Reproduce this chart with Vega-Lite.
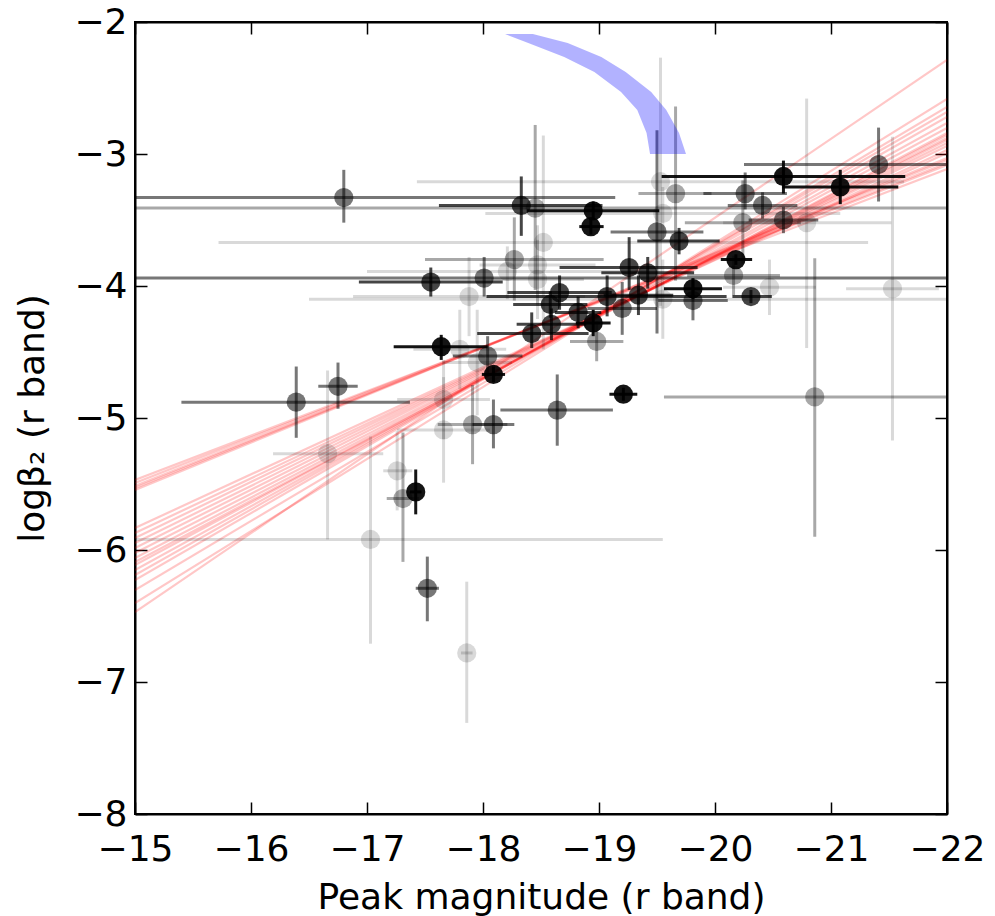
{
  "$schema": "https://vega.github.io/schema/vega-lite/v6.json",
  "width": 812,
  "height": 792,
  "autosize": {"type": "none"},
  "padding": {"left": 135, "top": 22, "right": 48, "bottom": 102},
  "background": "white",
  "datasets": {
    "pts": [
      {"x": -16.80, "y": -3.33, "xlo": -14.46, "xhi": -19.14, "ylo": -3.52, "yhi": -3.12, "w": 3},
      {"x": -18.33, "y": -3.39, "xlo": -17.62, "xhi": -19.03, "ylo": -3.62, "yhi": -3.17, "w": 4},
      {"x": -18.45, "y": -3.41, "xlo": -14.8, "xhi": -22.1, "ylo": -4.03, "yhi": -2.78, "w": 2},
      {"x": -18.95, "y": -3.43, "xlo": -18.38, "xhi": -19.52, "ylo": -3.50, "yhi": -3.36, "w": 5},
      {"x": -18.93, "y": -3.55, "xlo": -18.83, "xhi": -19.04, "ylo": -3.61, "yhi": -3.49, "w": 5},
      {"x": -18.52, "y": -3.67, "xlo": -15.72, "xhi": -21.32, "ylo": -4.48, "yhi": -2.86, "w": 1},
      {"x": -18.27, "y": -3.80, "xlo": -17.50, "xhi": -19.04, "ylo": -4.11, "yhi": -3.48, "w": 2},
      {"x": -18.21, "y": -3.89, "xlo": -17.0, "xhi": -19.42, "ylo": -4.1, "yhi": -3.7, "w": 1},
      {"x": -18.47, "y": -3.84, "xlo": -17.97, "xhi": -18.97, "ylo": -4.14, "yhi": -3.54, "w": 1},
      {"x": -18.47, "y": -3.95, "xlo": -18.07, "xhi": -18.87, "ylo": -4.25, "yhi": -3.65, "w": 1},
      {"x": -18.01, "y": -3.94, "xlo": -13.9, "xhi": -22.1, "ylo": -4.08, "yhi": -3.78, "w": 3},
      {"x": -17.88, "y": -4.08, "xlo": -16.88, "xhi": -18.88, "ylo": -4.38, "yhi": -3.78, "w": 1},
      {"x": -17.55, "y": -3.97, "xlo": -16.93, "xhi": -18.17, "ylo": -4.08, "yhi": -3.86, "w": 4},
      {"x": -18.66, "y": -4.05, "xlo": -18.21, "xhi": -19.11, "ylo": -4.18, "yhi": -3.92, "w": 4},
      {"x": -18.58, "y": -4.14, "xlo": -18.26, "xhi": -18.90, "ylo": -4.24, "yhi": -4.04, "w": 4},
      {"x": -18.82, "y": -4.20, "xlo": -18.62, "xhi": -19.02, "ylo": -4.32, "yhi": -4.08, "w": 4},
      {"x": -18.95, "y": -4.28, "xlo": -18.80, "xhi": -19.10, "ylo": -4.38, "yhi": -4.18, "w": 5},
      {"x": -18.59, "y": -4.29, "xlo": -18.29, "xhi": -18.89, "ylo": -4.41, "yhi": -4.17, "w": 4},
      {"x": -18.42, "y": -4.36, "xlo": -17.95, "xhi": -18.91, "ylo": -4.47, "yhi": -4.20, "w": 4},
      {"x": -19.07, "y": -4.08, "xlo": -18.03, "xhi": -20.10, "ylo": -4.23, "yhi": -3.92, "w": 4},
      {"x": -19.20, "y": -4.17, "xlo": -18.90, "xhi": -19.50, "ylo": -4.37, "yhi": -3.97, "w": 3},
      {"x": -19.26, "y": -3.86, "xlo": -18.66, "xhi": -19.85, "ylo": -4.03, "yhi": -3.63, "w": 4},
      {"x": -19.42, "y": -3.90, "xlo": -19.02, "xhi": -19.82, "ylo": -4.02, "yhi": -3.78, "w": 4},
      {"x": -19.34, "y": -4.07, "xlo": -19.04, "xhi": -19.64, "ylo": -4.22, "yhi": -3.92, "w": 4},
      {"x": -19.50, "y": -3.59, "xlo": -19.10, "xhi": -19.90, "ylo": -4.36, "yhi": -2.82, "w": 3},
      {"x": -19.69, "y": -3.66, "xlo": -19.33, "xhi": -20.04, "ylo": -3.76, "yhi": -3.56, "w": 4},
      {"x": -19.53, "y": -3.21, "xlo": -17.43, "xhi": -21.63, "ylo": -4.15, "yhi": -2.27, "w": 1},
      {"x": -19.66, "y": -3.30, "xlo": -19.34, "xhi": -19.97, "ylo": -3.96, "yhi": -2.64, "w": 2},
      {"x": -19.55, "y": -3.45, "xlo": -18.02, "xhi": -21.08, "ylo": -3.65, "yhi": -3.25, "w": 1},
      {"x": -19.81, "y": -4.02, "xlo": -19.56, "xhi": -20.06, "ylo": -4.10, "yhi": -3.94, "w": 5},
      {"x": -19.81, "y": -4.11, "xlo": -19.51, "xhi": -20.11, "ylo": -4.26, "yhi": -3.96, "w": 3},
      {"x": -19.55, "y": -4.10, "xlo": -16.5, "xhi": -22.6, "ylo": -4.40, "yhi": -3.80, "w": 1},
      {"x": -17.64, "y": -4.46, "xlo": -17.23, "xhi": -18.04, "ylo": -4.56, "yhi": -4.37, "w": 5},
      {"x": -17.80, "y": -4.48, "xlo": -17.40, "xhi": -18.20, "ylo": -4.78, "yhi": -4.18, "w": 1},
      {"x": -18.04, "y": -4.53, "xlo": -17.74, "xhi": -18.34, "ylo": -4.68, "yhi": -4.38, "w": 3},
      {"x": -18.09, "y": -4.67, "xlo": -17.99, "xhi": -18.19, "ylo": -4.73, "yhi": -4.61, "w": 5},
      {"x": -17.95, "y": -4.58, "xlo": -17.65, "xhi": -18.25, "ylo": -4.98, "yhi": -4.18, "w": 1},
      {"x": -17.66, "y": -4.86, "xlo": -17.26, "xhi": -18.06, "ylo": -5.16, "yhi": -4.56, "w": 1},
      {"x": -17.66, "y": -5.09, "xlo": -17.26, "xhi": -18.06, "ylo": -5.49, "yhi": -4.69, "w": 1},
      {"x": -17.91, "y": -5.05, "xlo": -17.61, "xhi": -18.21, "ylo": -5.35, "yhi": -4.75, "w": 2},
      {"x": -18.09, "y": -5.05, "xlo": -17.91, "xhi": -18.27, "ylo": -5.23, "yhi": -4.86, "w": 3},
      {"x": -18.64, "y": -4.94, "xlo": -18.15, "xhi": -19.12, "ylo": -5.21, "yhi": -4.67, "w": 3},
      {"x": -19.21, "y": -4.82, "xlo": -19.09, "xhi": -19.33, "ylo": -4.87, "yhi": -4.77, "w": 5},
      {"x": -18.98, "y": -4.42, "xlo": -18.75, "xhi": -19.21, "ylo": -4.57, "yhi": -4.27, "w": 2},
      {"x": -16.39, "y": -4.88, "xlo": -15.40, "xhi": -17.37, "ylo": -5.15, "yhi": -4.61, "w": 3},
      {"x": -16.75, "y": -4.76, "xlo": -16.58, "xhi": -16.92, "ylo": -4.93, "yhi": -4.58, "w": 3},
      {"x": -16.66, "y": -5.27, "xlo": -16.19, "xhi": -17.14, "ylo": -5.92, "yhi": -4.64, "w": 1},
      {"x": -17.26, "y": -5.40, "xlo": -17.14, "xhi": -17.39, "ylo": -5.70, "yhi": -5.10, "w": 1},
      {"x": -17.42, "y": -5.56, "xlo": -17.37, "xhi": -17.47, "ylo": -5.73, "yhi": -5.39, "w": 5},
      {"x": -17.31, "y": -5.61, "xlo": -17.17, "xhi": -17.45, "ylo": -6.09, "yhi": -5.11, "w": 2},
      {"x": -17.03, "y": -5.92, "xlo": -14.5, "xhi": -19.55, "ylo": -6.71, "yhi": -5.14, "w": 1},
      {"x": -17.52, "y": -6.29, "xlo": -17.42, "xhi": -17.62, "ylo": -6.54, "yhi": -6.05, "w": 3},
      {"x": -17.86, "y": -6.78, "xlo": -17.81, "xhi": -17.91, "ylo": -7.31, "yhi": -6.24, "w": 1},
      {"x": -21.41, "y": -3.08, "xlo": -20.25, "xhi": -22.57, "ylo": -3.36, "yhi": -2.80, "w": 3},
      {"x": -20.59, "y": -3.17, "xlo": -19.54, "xhi": -21.64, "ylo": -3.30, "yhi": -3.05, "w": 5},
      {"x": -21.08, "y": -3.25, "xlo": -20.58, "xhi": -21.58, "ylo": -3.38, "yhi": -3.12, "w": 5},
      {"x": -20.26, "y": -3.30, "xlo": -19.90, "xhi": -20.62, "ylo": -3.42, "yhi": -3.14, "w": 3},
      {"x": -20.41, "y": -3.39, "xlo": -20.11, "xhi": -20.71, "ylo": -3.49, "yhi": -3.29, "w": 3},
      {"x": -20.24, "y": -3.52, "xlo": -19.74, "xhi": -20.74, "ylo": -3.83, "yhi": -3.20, "w": 2},
      {"x": -20.59, "y": -3.50, "xlo": -20.29, "xhi": -20.89, "ylo": -3.60, "yhi": -3.40, "w": 3},
      {"x": -20.79, "y": -3.52, "xlo": -20.07, "xhi": -21.52, "ylo": -4.47, "yhi": -2.58, "w": 1},
      {"x": -20.18, "y": -3.80, "xlo": -20.05, "xhi": -20.32, "ylo": -3.84, "yhi": -3.76, "w": 5},
      {"x": -20.16, "y": -3.92, "xlo": -19.76, "xhi": -20.56, "ylo": -4.07, "yhi": -3.77, "w": 2},
      {"x": -20.47, "y": -4.01, "xlo": -20.07, "xhi": -20.87, "ylo": -4.22, "yhi": -3.80, "w": 1},
      {"x": -20.31, "y": -4.08, "xlo": -20.15, "xhi": -20.49, "ylo": -4.13, "yhi": -4.03, "w": 4},
      {"x": -21.53, "y": -4.02, "xlo": -21.13, "xhi": -21.93, "ylo": -5.17, "yhi": -2.87, "w": 1},
      {"x": -20.86, "y": -4.84, "xlo": -19.56, "xhi": -22.5, "ylo": -5.90, "yhi": -3.79, "w": 2}
    ],
    "fits": [
      {"id": 1, "lx": -15, "ly": -5.470}, {"id": 1, "lx": -22, "ly": -3.114},
      {"id": 2, "lx": -15, "ly": -5.492}, {"id": 2, "lx": -22, "ly": -3.083},
      {"id": 3, "lx": -15, "ly": -5.515}, {"id": 3, "lx": -22, "ly": -3.068},
      {"id": 4, "lx": -15, "ly": -5.530}, {"id": 4, "lx": -22, "ly": -3.045},
      {"id": 5, "lx": -15, "ly": -5.545}, {"id": 5, "lx": -22, "ly": -3.030},
      {"id": 6, "lx": -15, "ly": -5.833}, {"id": 6, "lx": -22, "ly": -2.992},
      {"id": 7, "lx": -15, "ly": -5.871}, {"id": 7, "lx": -22, "ly": -2.970},
      {"id": 8, "lx": -15, "ly": -5.909}, {"id": 8, "lx": -22, "ly": -2.939},
      {"id": 9, "lx": -15, "ly": -5.947}, {"id": 9, "lx": -22, "ly": -2.917},
      {"id": 10, "lx": -15, "ly": -5.985}, {"id": 10, "lx": -22, "ly": -2.894},
      {"id": 11, "lx": -15, "ly": -6.023}, {"id": 11, "lx": -22, "ly": -2.879},
      {"id": 12, "lx": -15, "ly": -6.061}, {"id": 12, "lx": -22, "ly": -2.856},
      {"id": 13, "lx": -15, "ly": -6.091}, {"id": 13, "lx": -22, "ly": -2.841},
      {"id": 14, "lx": -15, "ly": -6.114}, {"id": 14, "lx": -22, "ly": -2.803},
      {"id": 15, "lx": -15, "ly": -6.152}, {"id": 15, "lx": -22, "ly": -2.765},
      {"id": 16, "lx": -15, "ly": -6.189}, {"id": 16, "lx": -22, "ly": -2.720},
      {"id": 17, "lx": -15, "ly": -6.227}, {"id": 17, "lx": -22, "ly": -2.682},
      {"id": 18, "lx": -15, "ly": -6.303}, {"id": 18, "lx": -22, "ly": -2.644},
      {"id": 19, "lx": -15, "ly": -6.402}, {"id": 19, "lx": -22, "ly": -2.583},
      {"id": 20, "lx": -15, "ly": -6.470}, {"id": 20, "lx": -22, "ly": -2.288}
    ],
    "band": [
      {"by": -2.091, "bin": -18.19, "bout": -18.43},
      {"by": -2.159, "bin": -18.39, "bout": -18.73},
      {"by": -2.265, "bin": -18.70, "bout": -19.02},
      {"by": -2.379, "bin": -18.96, "bout": -19.23},
      {"by": -2.530, "bin": -19.19, "bout": -19.45},
      {"by": -2.667, "bin": -19.33, "bout": -19.58},
      {"by": -2.841, "bin": -19.41, "bout": -19.69},
      {"by": -3.000, "bin": -19.44, "bout": -19.75}
    ]
  },
  "layer": [
    {
      "data": {"name": "fits"},
      "mark": {"type": "line", "color": "#ff0000", "opacity": 0.22, "strokeWidth": 2.2, "clip": true},
      "encoding": {
        "x": {"field": "lx", "type": "quantitative", "scale": {"domain": [-22, -15], "reverse": true, "nice": false, "zero": false},
              "axis": {"orient": "top", "values": [-15, -16, -17, -18, -19, -20, -21, -22], "labels": false, "title": null}},
        "y": {"field": "ly", "type": "quantitative", "scale": {"domain": [-8, -2], "nice": false, "zero": false},
              "axis": {"orient": "right", "values": [-2, -3, -4, -5, -6, -7, -8], "labels": false, "title": null}},
        "detail": {"field": "id", "type": "nominal"}
      }
    },
    {
      "data": {"name": "pts"},
      "mark": {"type": "rule", "color": "black", "strokeWidth": 3, "clip": true},
      "encoding": {
        "x": {"field": "xlo", "type": "quantitative", "scale": {"domain": [-22, -15], "reverse": true, "nice": false, "zero": false}, "axis": null},
        "x2": {"field": "xhi"},
        "y": {"field": "y", "type": "quantitative", "scale": {"domain": [-8, -2], "nice": false, "zero": false}, "axis": null},
        "opacity": {"field": "w", "type": "quantitative", "scale": {"domain": [1, 5], "range": [0.15, 0.92]}, "legend": null}
      }
    },
    {
      "data": {"name": "pts"},
      "mark": {"type": "rule", "color": "black", "strokeWidth": 3, "clip": true},
      "encoding": {
        "x": {"field": "x", "type": "quantitative", "scale": {"domain": [-22, -15], "reverse": true, "nice": false, "zero": false}, "axis": null},
        "y": {"field": "ylo", "type": "quantitative", "scale": {"domain": [-8, -2], "nice": false, "zero": false}, "axis": null},
        "y2": {"field": "yhi"},
        "opacity": {"field": "w", "type": "quantitative", "scale": {"domain": [1, 5], "range": [0.15, 0.92]}, "legend": null}
      }
    },
    {
      "data": {"name": "pts"},
      "mark": {"type": "circle", "color": "black", "size": 370, "strokeWidth": 0},
      "encoding": {
        "x": {"field": "x", "type": "quantitative", "scale": {"domain": [-22, -15], "reverse": true, "nice": false, "zero": false},
              "axis": {"orient": "bottom", "values": [-15, -16, -17, -18, -19, -20, -21, -22], "format": "d", "labelPadding": 30, "labelFlush": false, "labelOverlap": false, "title": "Peak magnitude (r band)", "titlePadding": 13}},
        "y": {"field": "y", "type": "quantitative", "scale": {"domain": [-8, -2], "nice": false, "zero": false},
              "axis": {"orient": "left", "values": [-2, -3, -4, -5, -6, -7, -8], "format": "d", "labelPadding": 20, "labelFlush": false, "labelOverlap": false, "title": "logβ₂ (r band)", "titlePadding": 22}},
        "opacity": {"field": "w", "type": "quantitative", "scale": {"domain": [1, 5], "range": [0.15, 0.92]}, "legend": null}
      }
    },
    {
      "data": {"name": "band"},
      "mark": {"type": "area", "orient": "horizontal", "color": "#0000ff", "opacity": 0.3},
      "encoding": {
        "y": {"field": "by", "type": "quantitative", "scale": {"domain": [-8, -2], "nice": false, "zero": false}, "axis": null},
        "x": {"field": "bin", "type": "quantitative", "scale": {"domain": [-22, -15], "reverse": true, "nice": false, "zero": false}, "axis": null},
        "x2": {"field": "bout"}
      }
    }
  ],
  "resolve": {"axis": {"x": "independent", "y": "independent"}},
  "config": {
    "font": "DejaVu Sans",
    "view": {"stroke": "black", "strokeWidth": 2},
    "axis": {
      "grid": false,
      "domainColor": "black",
      "domainWidth": 2,
      "tickColor": "black",
      "tickWidth": 1.5,
      "tickSize": -12,
      "labelFont": "DejaVu Sans",
      "labelFontSize": 36,
      "labelColor": "black",
      "titleFont": "DejaVu Sans",
      "titleFontSize": 36,
      "titleFontWeight": "normal",
      "titleColor": "black"
    }
  }
}
